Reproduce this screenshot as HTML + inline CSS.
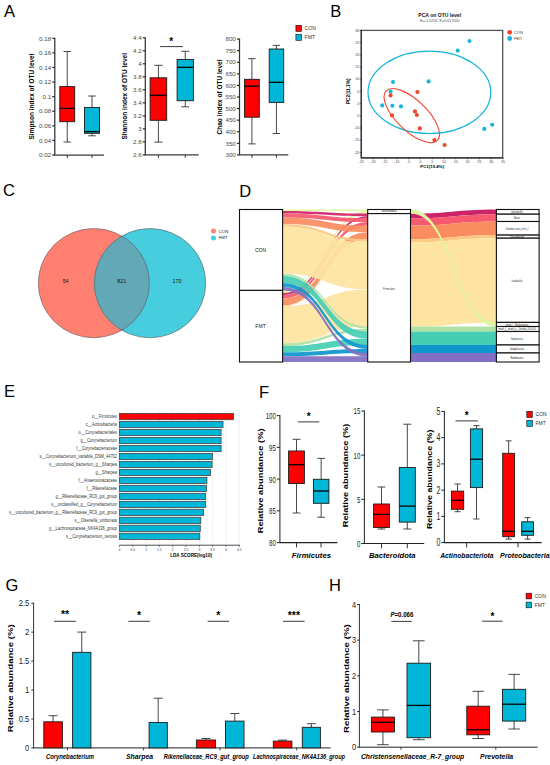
<!DOCTYPE html>
<html><head><meta charset="utf-8"><style>
html,body{margin:0;padding:0;background:#fff;}
body{width:550px;height:765px;overflow:hidden;}
svg{display:block;}
text{font-family:"Liberation Sans", sans-serif;}
</style></head><body>
<svg width="550" height="765" viewBox="0 0 550 765">
<rect width="550" height="765" fill="#fff"/>
<text transform="translate(4.00 17.00)" font-size="16.5" text-anchor="start" font-weight="normal" font-style="normal" fill="#000" >A</text>
<text transform="translate(330.20 17.00)" font-size="16.5" text-anchor="start" font-weight="normal" font-style="normal" fill="#000" >B</text>
<text transform="translate(3.00 196.20)" font-size="16.5" text-anchor="start" font-weight="normal" font-style="normal" fill="#000" >C</text>
<text transform="translate(239.20 196.90)" font-size="16.5" text-anchor="start" font-weight="normal" font-style="normal" fill="#000" >D</text>
<text transform="translate(4.00 396.50)" font-size="16.5" text-anchor="start" font-weight="normal" font-style="normal" fill="#000" >E</text>
<text transform="translate(259.00 398.40)" font-size="16.5" text-anchor="start" font-weight="normal" font-style="normal" fill="#000" >F</text>
<text transform="translate(5.50 590.60)" font-size="16.5" text-anchor="start" font-weight="normal" font-style="normal" fill="#000" >G</text>
<text transform="translate(329.00 590.90)" font-size="16.5" text-anchor="start" font-weight="normal" font-style="normal" fill="#000" >H</text>
<line x1="54.80" y1="37.80" x2="54.80" y2="155.00" stroke="#333" stroke-width="1.25"/>
<line x1="52.20" y1="155.00" x2="54.80" y2="155.00" stroke="#222" stroke-width="1.125"/>
<text transform="translate(51.10 157.22)" font-size="6.2" text-anchor="end" font-weight="normal" font-style="normal" fill="#4a4a4a" >0.02</text>
<line x1="52.20" y1="140.41" x2="54.80" y2="140.41" stroke="#222" stroke-width="1.125"/>
<text transform="translate(51.10 142.63)" font-size="6.2" text-anchor="end" font-weight="normal" font-style="normal" fill="#4a4a4a" >0.04</text>
<line x1="52.20" y1="125.83" x2="54.80" y2="125.83" stroke="#222" stroke-width="1.125"/>
<text transform="translate(51.10 128.04)" font-size="6.2" text-anchor="end" font-weight="normal" font-style="normal" fill="#4a4a4a" >0.06</text>
<line x1="52.20" y1="111.24" x2="54.80" y2="111.24" stroke="#222" stroke-width="1.125"/>
<text transform="translate(51.10 113.46)" font-size="6.2" text-anchor="end" font-weight="normal" font-style="normal" fill="#4a4a4a" >0.08</text>
<line x1="52.20" y1="96.65" x2="54.80" y2="96.65" stroke="#222" stroke-width="1.125"/>
<text transform="translate(51.10 98.87)" font-size="6.2" text-anchor="end" font-weight="normal" font-style="normal" fill="#4a4a4a" >0.1</text>
<line x1="52.20" y1="82.06" x2="54.80" y2="82.06" stroke="#222" stroke-width="1.125"/>
<text transform="translate(51.10 84.28)" font-size="6.2" text-anchor="end" font-weight="normal" font-style="normal" fill="#4a4a4a" >0.12</text>
<line x1="52.20" y1="67.47" x2="54.80" y2="67.47" stroke="#222" stroke-width="1.125"/>
<text transform="translate(51.10 69.69)" font-size="6.2" text-anchor="end" font-weight="normal" font-style="normal" fill="#4a4a4a" >0.14</text>
<line x1="52.20" y1="52.89" x2="54.80" y2="52.89" stroke="#222" stroke-width="1.125"/>
<text transform="translate(51.10 55.11)" font-size="6.2" text-anchor="end" font-weight="normal" font-style="normal" fill="#4a4a4a" >0.16</text>
<line x1="52.20" y1="38.30" x2="54.80" y2="38.30" stroke="#222" stroke-width="1.125"/>
<text transform="translate(51.10 40.52)" font-size="6.2" text-anchor="end" font-weight="normal" font-style="normal" fill="#4a4a4a" >0.18</text>
<line x1="54.20" y1="155.00" x2="104.00" y2="155.00" stroke="#3a3a3a" stroke-width="1.25"/>
<line x1="67.25" y1="51.50" x2="67.25" y2="86.60" stroke="#333" stroke-width="0.9"/>
<line x1="67.25" y1="121.70" x2="67.25" y2="142.00" stroke="#333" stroke-width="0.9"/>
<line x1="63.52" y1="51.50" x2="70.97" y2="51.50" stroke="#333" stroke-width="0.9"/>
<line x1="63.52" y1="142.00" x2="70.97" y2="142.00" stroke="#333" stroke-width="0.9"/>
<rect x="59.80" y="86.60" width="14.90" height="35.10" fill="#FF0000" stroke="#1a1a1a" stroke-width="0.9" />
<line x1="59.80" y1="108.40" x2="74.70" y2="108.40" stroke="#000" stroke-width="1.3"/>
<line x1="67.25" y1="155.00" x2="67.25" y2="158.00" stroke="#222" stroke-width="0.9"/>
<line x1="92.00" y1="96.00" x2="92.00" y2="107.40" stroke="#333" stroke-width="0.9"/>
<line x1="92.00" y1="133.30" x2="92.00" y2="135.80" stroke="#333" stroke-width="0.9"/>
<line x1="88.25" y1="96.00" x2="95.75" y2="96.00" stroke="#333" stroke-width="0.9"/>
<line x1="88.25" y1="135.80" x2="95.75" y2="135.80" stroke="#333" stroke-width="0.9"/>
<rect x="84.50" y="107.40" width="15.00" height="25.90" fill="#00B6D6" stroke="#1a1a1a" stroke-width="0.9" />
<line x1="84.50" y1="131.70" x2="99.50" y2="131.70" stroke="#000" stroke-width="1.3"/>
<line x1="92.00" y1="155.00" x2="92.00" y2="158.00" stroke="#222" stroke-width="0.9"/>
<text transform="translate(33.80 96.50) rotate(-90)" font-size="6.3" text-anchor="middle" font-weight="bold" font-style="normal" fill="#000" textLength="86.10" lengthAdjust="spacingAndGlyphs" >Simpson index of OTU level</text>
<line x1="145.30" y1="37.30" x2="145.30" y2="154.90" stroke="#333" stroke-width="1.25"/>
<line x1="142.70" y1="154.90" x2="145.30" y2="154.90" stroke="#222" stroke-width="1.125"/>
<text transform="translate(141.60 157.12)" font-size="6.2" text-anchor="end" font-weight="normal" font-style="normal" fill="#4a4a4a" >2.6</text>
<line x1="142.70" y1="141.89" x2="145.30" y2="141.89" stroke="#222" stroke-width="1.125"/>
<text transform="translate(141.60 144.11)" font-size="6.2" text-anchor="end" font-weight="normal" font-style="normal" fill="#4a4a4a" >2.8</text>
<line x1="142.70" y1="128.88" x2="145.30" y2="128.88" stroke="#222" stroke-width="1.125"/>
<text transform="translate(141.60 131.10)" font-size="6.2" text-anchor="end" font-weight="normal" font-style="normal" fill="#4a4a4a" >3</text>
<line x1="142.70" y1="115.87" x2="145.30" y2="115.87" stroke="#222" stroke-width="1.125"/>
<text transform="translate(141.60 118.09)" font-size="6.2" text-anchor="end" font-weight="normal" font-style="normal" fill="#4a4a4a" >3.2</text>
<line x1="142.70" y1="102.86" x2="145.30" y2="102.86" stroke="#222" stroke-width="1.125"/>
<text transform="translate(141.60 105.08)" font-size="6.2" text-anchor="end" font-weight="normal" font-style="normal" fill="#4a4a4a" >3.4</text>
<line x1="142.70" y1="89.84" x2="145.30" y2="89.84" stroke="#222" stroke-width="1.125"/>
<text transform="translate(141.60 92.06)" font-size="6.2" text-anchor="end" font-weight="normal" font-style="normal" fill="#4a4a4a" >3.6</text>
<line x1="142.70" y1="76.83" x2="145.30" y2="76.83" stroke="#222" stroke-width="1.125"/>
<text transform="translate(141.60 79.05)" font-size="6.2" text-anchor="end" font-weight="normal" font-style="normal" fill="#4a4a4a" >3.8</text>
<line x1="142.70" y1="63.82" x2="145.30" y2="63.82" stroke="#222" stroke-width="1.125"/>
<text transform="translate(141.60 66.04)" font-size="6.2" text-anchor="end" font-weight="normal" font-style="normal" fill="#4a4a4a" >4</text>
<line x1="142.70" y1="50.81" x2="145.30" y2="50.81" stroke="#222" stroke-width="1.125"/>
<text transform="translate(141.60 53.03)" font-size="6.2" text-anchor="end" font-weight="normal" font-style="normal" fill="#4a4a4a" >4.2</text>
<line x1="142.70" y1="37.80" x2="145.30" y2="37.80" stroke="#222" stroke-width="1.125"/>
<text transform="translate(141.60 40.02)" font-size="6.2" text-anchor="end" font-weight="normal" font-style="normal" fill="#4a4a4a" >4.4</text>
<line x1="144.70" y1="154.90" x2="198.70" y2="154.90" stroke="#3a3a3a" stroke-width="1.25"/>
<line x1="158.40" y1="65.30" x2="158.40" y2="77.80" stroke="#333" stroke-width="0.9"/>
<line x1="158.40" y1="120.30" x2="158.40" y2="142.10" stroke="#333" stroke-width="0.9"/>
<line x1="154.25" y1="65.30" x2="162.55" y2="65.30" stroke="#333" stroke-width="0.9"/>
<line x1="154.25" y1="142.10" x2="162.55" y2="142.10" stroke="#333" stroke-width="0.9"/>
<rect x="150.10" y="77.80" width="16.60" height="42.50" fill="#FF0000" stroke="#1a1a1a" stroke-width="0.9" />
<line x1="150.10" y1="95.30" x2="166.70" y2="95.30" stroke="#000" stroke-width="1.3"/>
<line x1="158.40" y1="154.90" x2="158.40" y2="157.90" stroke="#222" stroke-width="0.9"/>
<line x1="185.25" y1="51.30" x2="185.25" y2="59.40" stroke="#333" stroke-width="0.9"/>
<line x1="185.25" y1="100.70" x2="185.25" y2="106.80" stroke="#333" stroke-width="0.9"/>
<line x1="181.18" y1="51.30" x2="189.32" y2="51.30" stroke="#333" stroke-width="0.9"/>
<line x1="181.18" y1="106.80" x2="189.32" y2="106.80" stroke="#333" stroke-width="0.9"/>
<rect x="177.10" y="59.40" width="16.30" height="41.30" fill="#00B6D6" stroke="#1a1a1a" stroke-width="0.9" />
<line x1="177.10" y1="67.30" x2="193.40" y2="67.30" stroke="#000" stroke-width="1.3"/>
<line x1="185.25" y1="154.90" x2="185.25" y2="157.90" stroke="#222" stroke-width="0.9"/>
<text transform="translate(126.90 96.30) rotate(-90)" font-size="6.3" text-anchor="middle" font-weight="bold" font-style="normal" fill="#000" textLength="86.60" lengthAdjust="spacingAndGlyphs" >Shannon index of OTU level</text>
<line x1="239.50" y1="38.60" x2="239.50" y2="154.90" stroke="#333" stroke-width="1.25"/>
<line x1="236.90" y1="154.90" x2="239.50" y2="154.90" stroke="#222" stroke-width="1.125"/>
<text transform="translate(235.80 157.12)" font-size="6.2" text-anchor="end" font-weight="normal" font-style="normal" fill="#4a4a4a" >300</text>
<line x1="236.90" y1="143.32" x2="239.50" y2="143.32" stroke="#222" stroke-width="1.125"/>
<text transform="translate(235.80 145.54)" font-size="6.2" text-anchor="end" font-weight="normal" font-style="normal" fill="#4a4a4a" >350</text>
<line x1="236.90" y1="131.74" x2="239.50" y2="131.74" stroke="#222" stroke-width="1.125"/>
<text transform="translate(235.80 133.96)" font-size="6.2" text-anchor="end" font-weight="normal" font-style="normal" fill="#4a4a4a" >400</text>
<line x1="236.90" y1="120.16" x2="239.50" y2="120.16" stroke="#222" stroke-width="1.125"/>
<text transform="translate(235.80 122.38)" font-size="6.2" text-anchor="end" font-weight="normal" font-style="normal" fill="#4a4a4a" >450</text>
<line x1="236.90" y1="108.58" x2="239.50" y2="108.58" stroke="#222" stroke-width="1.125"/>
<text transform="translate(235.80 110.80)" font-size="6.2" text-anchor="end" font-weight="normal" font-style="normal" fill="#4a4a4a" >500</text>
<line x1="236.90" y1="97.00" x2="239.50" y2="97.00" stroke="#222" stroke-width="1.125"/>
<text transform="translate(235.80 99.22)" font-size="6.2" text-anchor="end" font-weight="normal" font-style="normal" fill="#4a4a4a" >550</text>
<line x1="236.90" y1="85.42" x2="239.50" y2="85.42" stroke="#222" stroke-width="1.125"/>
<text transform="translate(235.80 87.64)" font-size="6.2" text-anchor="end" font-weight="normal" font-style="normal" fill="#4a4a4a" >600</text>
<line x1="236.90" y1="73.84" x2="239.50" y2="73.84" stroke="#222" stroke-width="1.125"/>
<text transform="translate(235.80 76.06)" font-size="6.2" text-anchor="end" font-weight="normal" font-style="normal" fill="#4a4a4a" >650</text>
<line x1="236.90" y1="62.26" x2="239.50" y2="62.26" stroke="#222" stroke-width="1.125"/>
<text transform="translate(235.80 64.48)" font-size="6.2" text-anchor="end" font-weight="normal" font-style="normal" fill="#4a4a4a" >700</text>
<line x1="236.90" y1="50.68" x2="239.50" y2="50.68" stroke="#222" stroke-width="1.125"/>
<text transform="translate(235.80 52.90)" font-size="6.2" text-anchor="end" font-weight="normal" font-style="normal" fill="#4a4a4a" >750</text>
<line x1="236.90" y1="39.10" x2="239.50" y2="39.10" stroke="#222" stroke-width="1.125"/>
<text transform="translate(235.80 41.32)" font-size="6.2" text-anchor="end" font-weight="normal" font-style="normal" fill="#4a4a4a" >800</text>
<line x1="238.90" y1="154.90" x2="288.30" y2="154.90" stroke="#3a3a3a" stroke-width="1.25"/>
<line x1="251.90" y1="58.70" x2="251.90" y2="79.30" stroke="#333" stroke-width="0.9"/>
<line x1="251.90" y1="117.20" x2="251.90" y2="143.90" stroke="#333" stroke-width="0.9"/>
<line x1="248.20" y1="58.70" x2="255.60" y2="58.70" stroke="#333" stroke-width="0.9"/>
<line x1="248.20" y1="143.90" x2="255.60" y2="143.90" stroke="#333" stroke-width="0.9"/>
<rect x="244.50" y="79.30" width="14.80" height="37.90" fill="#FF0000" stroke="#1a1a1a" stroke-width="0.9" />
<line x1="244.50" y1="86.20" x2="259.30" y2="86.20" stroke="#000" stroke-width="1.3"/>
<line x1="251.90" y1="154.90" x2="251.90" y2="157.90" stroke="#222" stroke-width="0.9"/>
<line x1="276.45" y1="45.40" x2="276.45" y2="49.00" stroke="#333" stroke-width="0.9"/>
<line x1="276.45" y1="102.40" x2="276.45" y2="133.50" stroke="#333" stroke-width="0.9"/>
<line x1="272.82" y1="45.40" x2="280.07" y2="45.40" stroke="#333" stroke-width="0.9"/>
<line x1="272.82" y1="133.50" x2="280.07" y2="133.50" stroke="#333" stroke-width="0.9"/>
<rect x="269.20" y="49.00" width="14.50" height="53.40" fill="#00B6D6" stroke="#1a1a1a" stroke-width="0.9" />
<line x1="269.20" y1="82.30" x2="283.70" y2="82.30" stroke="#000" stroke-width="1.3"/>
<line x1="276.45" y1="154.90" x2="276.45" y2="157.90" stroke="#222" stroke-width="0.9"/>
<text transform="translate(222.00 97.00) rotate(-90)" font-size="6.3" text-anchor="middle" font-weight="bold" font-style="normal" fill="#000" textLength="75.10" lengthAdjust="spacingAndGlyphs" >Chao index of OTU level</text>
<line x1="160.10" y1="46.60" x2="182.90" y2="46.60" stroke="#222" stroke-width="0.9"/>
<text transform="translate(171.20 45.00)" font-size="10" text-anchor="middle" font-weight="bold" font-style="normal" fill="#000" >*</text>
<rect x="295.90" y="25.40" width="5.60" height="6.00" fill="#FF0000" stroke="#111" stroke-width="0.6" />
<text transform="translate(304.60 30.40) scale(1 1.15)" font-size="5.05" text-anchor="start" font-weight="normal" font-style="normal" fill="#333" >CON</text>
<rect x="295.90" y="34.40" width="5.60" height="6.00" fill="#00B6D6" stroke="#111" stroke-width="0.6" />
<text transform="translate(304.60 39.20) scale(1 1.15)" font-size="5.05" text-anchor="start" font-weight="normal" font-style="normal" fill="#333" >FMT</text>
<rect x="361.30" y="30.40" width="141.40" height="127.40" fill="none" stroke="#555" stroke-width="1.3" />
<line x1="361.30" y1="29.80" x2="361.30" y2="157.80" stroke="#333" stroke-width="1.3"/>
<line x1="361.30" y1="157.80" x2="503.30" y2="157.80" stroke="#333" stroke-width="1.3"/>
<line x1="359.70" y1="152.40" x2="361.30" y2="152.40" stroke="#333" stroke-width="0.7"/>
<text transform="translate(359.10 153.65)" font-size="3.5" text-anchor="end" font-weight="normal" font-style="normal" fill="#444" >-20</text>
<line x1="359.70" y1="140.20" x2="361.30" y2="140.20" stroke="#333" stroke-width="0.7"/>
<text transform="translate(359.10 141.45)" font-size="3.5" text-anchor="end" font-weight="normal" font-style="normal" fill="#444" >-15</text>
<line x1="359.70" y1="128.00" x2="361.30" y2="128.00" stroke="#333" stroke-width="0.7"/>
<text transform="translate(359.10 129.25)" font-size="3.5" text-anchor="end" font-weight="normal" font-style="normal" fill="#444" >-10</text>
<line x1="359.70" y1="115.80" x2="361.30" y2="115.80" stroke="#333" stroke-width="0.7"/>
<text transform="translate(359.10 117.05)" font-size="3.5" text-anchor="end" font-weight="normal" font-style="normal" fill="#444" >-5</text>
<line x1="359.70" y1="103.60" x2="361.30" y2="103.60" stroke="#333" stroke-width="0.7"/>
<text transform="translate(359.10 104.85)" font-size="3.5" text-anchor="end" font-weight="normal" font-style="normal" fill="#444" >0</text>
<line x1="359.70" y1="91.40" x2="361.30" y2="91.40" stroke="#333" stroke-width="0.7"/>
<text transform="translate(359.10 92.65)" font-size="3.5" text-anchor="end" font-weight="normal" font-style="normal" fill="#444" >5</text>
<line x1="359.70" y1="79.20" x2="361.30" y2="79.20" stroke="#333" stroke-width="0.7"/>
<text transform="translate(359.10 80.45)" font-size="3.5" text-anchor="end" font-weight="normal" font-style="normal" fill="#444" >10</text>
<line x1="359.70" y1="67.00" x2="361.30" y2="67.00" stroke="#333" stroke-width="0.7"/>
<text transform="translate(359.10 68.25)" font-size="3.5" text-anchor="end" font-weight="normal" font-style="normal" fill="#444" >15</text>
<line x1="359.70" y1="54.80" x2="361.30" y2="54.80" stroke="#333" stroke-width="0.7"/>
<text transform="translate(359.10 56.05)" font-size="3.5" text-anchor="end" font-weight="normal" font-style="normal" fill="#444" >20</text>
<line x1="359.70" y1="42.60" x2="361.30" y2="42.60" stroke="#333" stroke-width="0.7"/>
<text transform="translate(359.10 43.85)" font-size="3.5" text-anchor="end" font-weight="normal" font-style="normal" fill="#444" >25</text>
<line x1="359.70" y1="30.40" x2="361.30" y2="30.40" stroke="#333" stroke-width="0.7"/>
<text transform="translate(359.10 31.65)" font-size="3.5" text-anchor="end" font-weight="normal" font-style="normal" fill="#444" >30</text>
<line x1="361.40" y1="157.80" x2="361.40" y2="159.30" stroke="#333" stroke-width="0.7"/>
<text transform="translate(361.40 162.90)" font-size="3.5" text-anchor="middle" font-weight="normal" font-style="normal" fill="#444" >-25</text>
<line x1="373.20" y1="157.80" x2="373.20" y2="159.30" stroke="#333" stroke-width="0.7"/>
<text transform="translate(373.20 162.90)" font-size="3.5" text-anchor="middle" font-weight="normal" font-style="normal" fill="#444" >-20</text>
<line x1="385.00" y1="157.80" x2="385.00" y2="159.30" stroke="#333" stroke-width="0.7"/>
<text transform="translate(385.00 162.90)" font-size="3.5" text-anchor="middle" font-weight="normal" font-style="normal" fill="#444" >-15</text>
<line x1="396.80" y1="157.80" x2="396.80" y2="159.30" stroke="#333" stroke-width="0.7"/>
<text transform="translate(396.80 162.90)" font-size="3.5" text-anchor="middle" font-weight="normal" font-style="normal" fill="#444" >-10</text>
<line x1="408.60" y1="157.80" x2="408.60" y2="159.30" stroke="#333" stroke-width="0.7"/>
<text transform="translate(408.60 162.90)" font-size="3.5" text-anchor="middle" font-weight="normal" font-style="normal" fill="#444" >-5</text>
<line x1="420.40" y1="157.80" x2="420.40" y2="159.30" stroke="#333" stroke-width="0.7"/>
<text transform="translate(420.40 162.90)" font-size="3.5" text-anchor="middle" font-weight="normal" font-style="normal" fill="#444" >0</text>
<line x1="432.20" y1="157.80" x2="432.20" y2="159.30" stroke="#333" stroke-width="0.7"/>
<text transform="translate(432.20 162.90)" font-size="3.5" text-anchor="middle" font-weight="normal" font-style="normal" fill="#444" >5</text>
<line x1="444.00" y1="157.80" x2="444.00" y2="159.30" stroke="#333" stroke-width="0.7"/>
<text transform="translate(444.00 162.90)" font-size="3.5" text-anchor="middle" font-weight="normal" font-style="normal" fill="#444" >10</text>
<line x1="455.80" y1="157.80" x2="455.80" y2="159.30" stroke="#333" stroke-width="0.7"/>
<text transform="translate(455.80 162.90)" font-size="3.5" text-anchor="middle" font-weight="normal" font-style="normal" fill="#444" >15</text>
<line x1="467.60" y1="157.80" x2="467.60" y2="159.30" stroke="#333" stroke-width="0.7"/>
<text transform="translate(467.60 162.90)" font-size="3.5" text-anchor="middle" font-weight="normal" font-style="normal" fill="#444" >20</text>
<line x1="479.40" y1="157.80" x2="479.40" y2="159.30" stroke="#333" stroke-width="0.7"/>
<text transform="translate(479.40 162.90)" font-size="3.5" text-anchor="middle" font-weight="normal" font-style="normal" fill="#444" >25</text>
<line x1="491.20" y1="157.80" x2="491.20" y2="159.30" stroke="#333" stroke-width="0.7"/>
<text transform="translate(491.20 162.90)" font-size="3.5" text-anchor="middle" font-weight="normal" font-style="normal" fill="#444" >30</text>
<line x1="503.00" y1="157.80" x2="503.00" y2="159.30" stroke="#333" stroke-width="0.7"/>
<text transform="translate(503.00 162.90)" font-size="3.5" text-anchor="middle" font-weight="normal" font-style="normal" fill="#444" >35</text>
<text transform="translate(439.70 17.00)" font-size="5.05" text-anchor="middle" font-weight="bold" font-style="normal" fill="#111" >PCA on OTU level</text>
<text transform="translate(439.70 21.70)" font-size="3.68" text-anchor="middle" font-weight="normal" font-style="normal" fill="#555" >R=-0.0258, P=0.657000</text>
<text transform="translate(432.20 168.10)" font-size="4.4" text-anchor="middle" font-weight="bold" font-style="normal" fill="#000" >PC1(19.4%)</text>
<text transform="translate(350.40 91.30) rotate(-90)" font-size="4.6" text-anchor="middle" font-weight="bold" font-style="normal" fill="#000" textLength="25.60" lengthAdjust="spacingAndGlyphs" >PC2(11.1%)</text>
<ellipse cx="429.4" cy="92.3" rx="61.4" ry="41.2" fill="none" stroke="#17B4DC" stroke-width="1.2"/>
<ellipse cx="411.8" cy="115.6" rx="35.6" ry="15.2" fill="none" stroke="#F2432D" stroke-width="1.1" transform="rotate(44 411.8 115.6)"/>
<circle cx="393" cy="82" r="2.05" fill="#17B4DC"/>
<circle cx="428.6" cy="81.4" r="2.05" fill="#17B4DC"/>
<circle cx="390.6" cy="91.6" r="2.05" fill="#17B4DC"/>
<circle cx="382.2" cy="105.4" r="2.05" fill="#17B4DC"/>
<circle cx="392.4" cy="105.8" r="2.05" fill="#17B4DC"/>
<circle cx="401" cy="106.4" r="2.05" fill="#17B4DC"/>
<circle cx="469.5" cy="41" r="2.05" fill="#17B4DC"/>
<circle cx="457.7" cy="50.6" r="2.05" fill="#17B4DC"/>
<circle cx="484.3" cy="128.9" r="2.05" fill="#17B4DC"/>
<circle cx="492.2" cy="124.7" r="2.05" fill="#17B4DC"/>
<circle cx="390.6" cy="95.4" r="2.05" fill="#F2432D"/>
<circle cx="417.4" cy="92" r="2.05" fill="#F2432D"/>
<circle cx="415" cy="111.4" r="2.05" fill="#F2432D"/>
<circle cx="416.8" cy="115" r="2.05" fill="#F2432D"/>
<circle cx="392" cy="115.4" r="2.05" fill="#F2432D"/>
<circle cx="419.8" cy="128.4" r="2.05" fill="#F2432D"/>
<circle cx="434.4" cy="140" r="2.05" fill="#F2432D"/>
<circle cx="444.6" cy="145" r="2.05" fill="#F2432D"/>
<circle cx="509.7" cy="32.3" r="2.4" fill="#F2432D"/>
<text transform="translate(513.90 33.50)" font-size="4.05" text-anchor="start" font-weight="normal" font-style="normal" fill="#444" >CON</text>
<circle cx="509.7" cy="38.5" r="2.4" fill="#17B4DC"/>
<text transform="translate(513.90 39.70)" font-size="4.05" text-anchor="start" font-weight="normal" font-style="normal" fill="#444" >FMT</text>
<ellipse cx="93.85" cy="283.15" rx="55.55" ry="54.6" fill="#FF8070"/>
<ellipse cx="149.95" cy="283.15" rx="55.75" ry="54.6" fill="#46CDDE"/>
<clipPath id="cl"><ellipse cx="93.85" cy="283.15" rx="55.55" ry="54.6"/></clipPath>
<ellipse cx="149.95" cy="283.15" rx="55.75" ry="54.6" fill="#62A8B6" clip-path="url(#cl)"/>
<ellipse cx="93.85" cy="283.15" rx="55.55" ry="54.6" fill="none" stroke="#5a5a5a" stroke-width="0.6"/>
<ellipse cx="149.95" cy="283.15" rx="55.75" ry="54.6" fill="none" stroke="#5a5a5a" stroke-width="0.6"/>
<text transform="translate(65.60 283.10)" font-size="5.3" text-anchor="middle" font-weight="normal" font-style="normal" fill="#111" >54</text>
<text transform="translate(121.70 283.10)" font-size="5.3" text-anchor="middle" font-weight="normal" font-style="normal" fill="#111" >821</text>
<text transform="translate(177.00 283.10)" font-size="5.3" text-anchor="middle" font-weight="normal" font-style="normal" fill="#111" >170</text>
<circle cx="213.5" cy="231" r="2.5" fill="#FF8070"/>
<text transform="translate(218.70 232.50)" font-size="4.3" text-anchor="start" font-weight="normal" font-style="normal" fill="#111" >CON</text>
<circle cx="213.5" cy="238" r="2.5" fill="#46CDDE"/>
<text transform="translate(218.70 239.30)" font-size="4.3" text-anchor="start" font-weight="normal" font-style="normal" fill="#111" >FMT</text>
<path d="M282.60,290.40 C325.15,290.40 325.15,210.90 367.70,210.90 L367.70,213.60 C325.15,213.60 325.15,293.10 282.60,293.10 Z" fill="#E1F5A0" fill-opacity="0.93"/>
<path d="M282.60,293.10 C325.15,293.10 325.15,216.30 367.70,216.30 L367.70,218.30 C325.15,218.30 325.15,295.10 282.60,295.10 Z" fill="#CD2369" fill-opacity="0.93"/>
<path d="M282.60,295.10 C325.15,295.10 325.15,222.10 367.70,222.10 L367.70,225.60 C325.15,225.60 325.15,298.60 282.60,298.60 Z" fill="#F55A6E" fill-opacity="0.93"/>
<path d="M282.60,298.60 C325.15,298.60 325.15,232.20 367.70,232.20 L367.70,239.20 C325.15,239.20 325.15,305.60 282.60,305.60 Z" fill="#FA8C5F" fill-opacity="0.93"/>
<path d="M282.60,305.60 C325.15,305.60 325.15,241.60 367.70,241.60 L367.70,242.30 C325.15,242.30 325.15,306.30 282.60,306.30 Z" fill="#FCC882" fill-opacity="0.93"/>
<path d="M282.60,306.30 C325.15,306.30 325.15,289.50 367.70,289.50 L367.70,326.50 C325.15,326.50 325.15,343.30 282.60,343.30 Z" fill="#FDE4A0" fill-opacity="0.93"/>
<path d="M282.60,343.30 C325.15,343.30 325.15,328.70 367.70,328.70 L367.70,331.50 C325.15,331.50 325.15,346.10 282.60,346.10 Z" fill="#AFE1A5" fill-opacity="0.93"/>
<path d="M282.60,346.10 C325.15,346.10 325.15,338.80 367.70,338.80 L367.70,345.00 C325.15,345.00 325.15,352.30 282.60,352.30 Z" fill="#46CDB4" fill-opacity="0.93"/>
<path d="M282.60,352.30 C325.15,352.30 325.15,349.00 367.70,349.00 L367.70,353.00 C325.15,353.00 325.15,356.30 282.60,356.30 Z" fill="#0F96CD" fill-opacity="0.93"/>
<path d="M282.60,356.30 C325.15,356.30 325.15,356.30 367.70,356.30 L367.70,362.00 C325.15,362.00 325.15,362.00 282.60,362.00 Z" fill="#826EC3" fill-opacity="0.93"/>
<path d="M282.60,209.50 C325.15,209.50 325.15,209.50 367.70,209.50 L367.70,210.90 C325.15,210.90 325.15,210.90 282.60,210.90 Z" fill="#E1F5A0" fill-opacity="0.93"/>
<path d="M282.60,210.90 C325.15,210.90 325.15,213.60 367.70,213.60 L367.70,216.30 C325.15,216.30 325.15,213.60 282.60,213.60 Z" fill="#CD2369" fill-opacity="0.93"/>
<path d="M282.60,213.60 C325.15,213.60 325.15,218.30 367.70,218.30 L367.70,222.10 C325.15,222.10 325.15,217.40 282.60,217.40 Z" fill="#F55A6E" fill-opacity="0.93"/>
<path d="M282.60,217.40 C325.15,217.40 325.15,225.60 367.70,225.60 L367.70,232.20 C325.15,232.20 325.15,224.00 282.60,224.00 Z" fill="#FA8C5F" fill-opacity="0.93"/>
<path d="M282.60,224.00 C325.15,224.00 325.15,239.20 367.70,239.20 L367.70,241.60 C325.15,241.60 325.15,226.40 282.60,226.40 Z" fill="#FCC882" fill-opacity="0.93"/>
<path d="M282.60,226.40 C325.15,226.40 325.15,242.30 367.70,242.30 L367.70,289.50 C325.15,289.50 325.15,273.60 282.60,273.60 Z" fill="#FDE4A0" fill-opacity="0.93"/>
<path d="M282.60,273.60 C325.15,273.60 325.15,326.50 367.70,326.50 L367.70,328.70 C325.15,328.70 325.15,275.80 282.60,275.80 Z" fill="#AFE1A5" fill-opacity="0.93"/>
<path d="M282.60,275.80 C325.15,275.80 325.15,331.50 367.70,331.50 L367.70,338.80 C325.15,338.80 325.15,283.10 282.60,283.10 Z" fill="#46CDB4" fill-opacity="0.93"/>
<path d="M282.60,283.10 C325.15,283.10 325.15,345.00 367.70,345.00 L367.70,349.00 C325.15,349.00 325.15,287.10 282.60,287.10 Z" fill="#0F96CD" fill-opacity="0.93"/>
<path d="M282.60,287.10 C325.15,287.10 325.15,353.00 367.70,353.00 L367.70,356.30 C325.15,356.30 325.15,290.40 282.60,290.40 Z" fill="#826EC3" fill-opacity="0.93"/>
<path d="M410.50,213.60 C453.45,213.60 453.45,209.50 496.40,209.50 L496.40,214.20 C453.45,214.20 453.45,218.30 410.50,218.30 Z" fill="#CD2369" fill-opacity="1.0"/>
<path d="M410.50,218.30 C453.45,218.30 453.45,214.20 496.40,214.20 L496.40,221.50 C453.45,221.50 453.45,225.60 410.50,225.60 Z" fill="#F55A6E" fill-opacity="1.0"/>
<path d="M410.50,225.60 C453.45,225.60 453.45,221.50 496.40,221.50 L496.40,235.10 C453.45,235.10 453.45,239.20 410.50,239.20 Z" fill="#FA8C5F" fill-opacity="1.0"/>
<path d="M410.50,239.20 C453.45,239.20 453.45,235.10 496.40,235.10 L496.40,238.20 C453.45,238.20 453.45,242.30 410.50,242.30 Z" fill="#FCC882" fill-opacity="1.0"/>
<path d="M410.50,242.30 C453.45,242.30 453.45,238.20 496.40,238.20 L496.40,322.40 C453.45,322.40 453.45,326.50 410.50,326.50 Z" fill="#FDE4A0" fill-opacity="1.0"/>
<path d="M410.50,326.50 C453.45,326.50 453.45,326.50 496.40,326.50 L496.40,331.50 C453.45,331.50 453.45,331.50 410.50,331.50 Z" fill="#AFE1A5" fill-opacity="1.0"/>
<path d="M410.50,331.50 C453.45,331.50 453.45,331.50 496.40,331.50 L496.40,345.00 C453.45,345.00 453.45,345.00 410.50,345.00 Z" fill="#46CDB4" fill-opacity="1.0"/>
<path d="M410.50,345.00 C453.45,345.00 453.45,345.00 496.40,345.00 L496.40,353.00 C453.45,353.00 453.45,353.00 410.50,353.00 Z" fill="#0F96CD" fill-opacity="1.0"/>
<path d="M410.50,353.00 C453.45,353.00 453.45,353.00 496.40,353.00 L496.40,362.00 C453.45,362.00 453.45,362.00 410.50,362.00 Z" fill="#826EC3" fill-opacity="1.0"/>
<path d="M410.50,209.50 C453.45,209.50 453.45,322.40 496.40,322.40 L496.40,326.50 C453.45,326.50 453.45,213.60 410.50,213.60 Z" fill="#E1F5A0" fill-opacity="1.0"/>
<rect x="239.50" y="209.50" width="43.10" height="80.90" fill="#fff" stroke="#111" stroke-width="1.1" />
<text transform="translate(260.60 251.80)" font-size="5.1" text-anchor="middle" font-weight="normal" font-style="normal" fill="#222" >CON</text>
<rect x="239.50" y="290.40" width="43.10" height="71.60" fill="#fff" stroke="#111" stroke-width="1.1" />
<text transform="translate(260.60 328.30)" font-size="5.1" text-anchor="middle" font-weight="normal" font-style="normal" fill="#222" >FMT</text>
<rect x="367.70" y="209.50" width="42.80" height="4.10" fill="#fff" stroke="#111" stroke-width="1.1" />
<text transform="translate(389.10 212.35)" font-size="2.6" text-anchor="middle" font-weight="normal" font-style="normal" fill="#222" >Bacteroidota</text>
<rect x="367.70" y="213.60" width="42.80" height="148.40" fill="#fff" stroke="#111" stroke-width="1.1" />
<text transform="translate(389.10 289.80)" font-size="2.6" text-anchor="middle" font-weight="normal" font-style="normal" fill="#333" >Firmicutes</text>
<rect x="496.40" y="209.50" width="42.70" height="4.70" fill="#fff" stroke="#111" stroke-width="1.1" />
<text transform="translate(516.95 213.25)" font-size="2.6" text-anchor="middle" font-weight="normal" font-style="normal" fill="#111" textLength="11.80" lengthAdjust="spacingAndGlyphs" >Ligilactobacillus</text>
<rect x="496.40" y="214.20" width="42.70" height="7.30" fill="#fff" stroke="#111" stroke-width="1.1" />
<text transform="translate(516.95 219.25)" font-size="2.6" text-anchor="middle" font-weight="normal" font-style="normal" fill="#111" textLength="5.80" lengthAdjust="spacingAndGlyphs" >Blautia</text>
<rect x="496.40" y="221.50" width="42.70" height="13.60" fill="#fff" stroke="#111" stroke-width="1.1" />
<text transform="translate(516.95 229.70)" font-size="2.6" text-anchor="middle" font-weight="normal" font-style="normal" fill="#111" textLength="23.10" lengthAdjust="spacingAndGlyphs" >Clostridium_sensu_stricto_1</text>
<rect x="496.40" y="235.10" width="42.70" height="3.10" fill="#fff" stroke="#111" stroke-width="1.1" />
<text transform="translate(516.95 238.05)" font-size="2.6" text-anchor="middle" font-weight="normal" font-style="normal" fill="#111" textLength="14.50" lengthAdjust="spacingAndGlyphs" >Turicibacter</text>
<rect x="496.40" y="238.20" width="42.70" height="84.20" fill="#fff" stroke="#111" stroke-width="1.1" />
<text transform="translate(516.95 281.70)" font-size="2.6" text-anchor="middle" font-weight="normal" font-style="normal" fill="#111" textLength="10.90" lengthAdjust="spacingAndGlyphs" >Lactobacillus</text>
<rect x="496.40" y="322.40" width="42.70" height="4.10" fill="#fff" stroke="#111" stroke-width="1.1" />
<text transform="translate(516.95 325.85)" font-size="2.6" text-anchor="middle" font-weight="normal" font-style="normal" fill="#111" textLength="22.50" lengthAdjust="spacingAndGlyphs" >norank_f__Muribaculaceae</text>
<rect x="496.40" y="326.50" width="42.70" height="5.00" fill="#fff" stroke="#111" stroke-width="1.1" />
<text transform="translate(516.95 330.40)" font-size="2.6" text-anchor="middle" font-weight="normal" font-style="normal" fill="#111" textLength="37.50" lengthAdjust="spacingAndGlyphs" >norank_f__norank_o__Clostridia_UCG-014</text>
<rect x="496.40" y="331.50" width="42.70" height="13.50" fill="#fff" stroke="#111" stroke-width="1.1" />
<text transform="translate(516.95 339.65)" font-size="2.6" text-anchor="middle" font-weight="normal" font-style="normal" fill="#111" textLength="12.00" lengthAdjust="spacingAndGlyphs" >Staphylococcus</text>
<rect x="496.40" y="345.00" width="42.70" height="8.00" fill="#fff" stroke="#111" stroke-width="1.1" />
<text transform="translate(516.95 350.40)" font-size="2.6" text-anchor="middle" font-weight="normal" font-style="normal" fill="#111" textLength="14.50" lengthAdjust="spacingAndGlyphs" >Jeotgalicoccus</text>
<rect x="496.40" y="353.00" width="42.70" height="9.00" fill="#fff" stroke="#111" stroke-width="1.1" />
<text transform="translate(516.95 358.90)" font-size="2.6" text-anchor="middle" font-weight="normal" font-style="normal" fill="#111" textLength="13.00" lengthAdjust="spacingAndGlyphs" >Romboutsia</text>
<line x1="132.80" y1="410" x2="132.80" y2="545" stroke="#bbb" stroke-width="0.5" stroke-dasharray="1,1.5"/>
<line x1="146.10" y1="410" x2="146.10" y2="545" stroke="#bbb" stroke-width="0.5" stroke-dasharray="1,1.5"/>
<line x1="159.40" y1="410" x2="159.40" y2="545" stroke="#bbb" stroke-width="0.5" stroke-dasharray="1,1.5"/>
<line x1="172.70" y1="410" x2="172.70" y2="545" stroke="#bbb" stroke-width="0.5" stroke-dasharray="1,1.5"/>
<line x1="186.00" y1="410" x2="186.00" y2="545" stroke="#bbb" stroke-width="0.5" stroke-dasharray="1,1.5"/>
<line x1="199.30" y1="410" x2="199.30" y2="545" stroke="#bbb" stroke-width="0.5" stroke-dasharray="1,1.5"/>
<line x1="212.60" y1="410" x2="212.60" y2="545" stroke="#bbb" stroke-width="0.5" stroke-dasharray="1,1.5"/>
<line x1="225.90" y1="410" x2="225.90" y2="545" stroke="#bbb" stroke-width="0.5" stroke-dasharray="1,1.5"/>
<line x1="239.20" y1="410" x2="239.20" y2="545" stroke="#bbb" stroke-width="0.5" stroke-dasharray="1,1.5"/>
<rect x="119.50" y="413.50" width="113.90" height="6.20" fill="#FF0000" stroke="#444" stroke-width="0.8" />
<text transform="translate(117.00 418.00) scale(1 1.12)" font-size="3.95" text-anchor="end" font-weight="normal" font-style="normal" fill="#333" >p__Firmicutes</text>
<rect x="119.50" y="421.48" width="103.50" height="6.20" fill="#00B6D6" stroke="#444" stroke-width="0.8" />
<text transform="translate(117.00 425.98) scale(1 1.12)" font-size="3.95" text-anchor="end" font-weight="normal" font-style="normal" fill="#333" >c__Actinobacteria</text>
<rect x="119.50" y="429.46" width="101.60" height="6.20" fill="#00B6D6" stroke="#444" stroke-width="0.8" />
<text transform="translate(117.00 433.96) scale(1 1.12)" font-size="3.95" text-anchor="end" font-weight="normal" font-style="normal" fill="#333" >o__Corynebacteriales</text>
<rect x="119.50" y="437.44" width="101.60" height="6.20" fill="#00B6D6" stroke="#444" stroke-width="0.8" />
<text transform="translate(117.00 441.94) scale(1 1.12)" font-size="3.95" text-anchor="end" font-weight="normal" font-style="normal" fill="#333" >g__Corynebacterium</text>
<rect x="119.50" y="445.42" width="101.60" height="6.20" fill="#00B6D6" stroke="#444" stroke-width="0.8" />
<text transform="translate(117.00 449.92) scale(1 1.12)" font-size="3.95" text-anchor="end" font-weight="normal" font-style="normal" fill="#333" >f__Corynebacteriaceae</text>
<rect x="119.50" y="453.40" width="92.90" height="6.20" fill="#00B6D6" stroke="#444" stroke-width="0.8" />
<text transform="translate(117.00 457.90) scale(1 1.12)" font-size="3.95" text-anchor="end" font-weight="normal" font-style="normal" fill="#333" >s__Corynebacterium_variabile_DSM_44702</text>
<rect x="119.50" y="461.38" width="92.60" height="6.20" fill="#00B6D6" stroke="#444" stroke-width="0.8" />
<text transform="translate(117.00 465.88) scale(1 1.12)" font-size="3.95" text-anchor="end" font-weight="normal" font-style="normal" fill="#333" >s__uncultured_bacterium_g__Sharpea</text>
<rect x="119.50" y="469.36" width="91.00" height="6.20" fill="#00B6D6" stroke="#444" stroke-width="0.8" />
<text transform="translate(117.00 473.86) scale(1 1.12)" font-size="3.95" text-anchor="end" font-weight="normal" font-style="normal" fill="#333" >g__Sharpea</text>
<rect x="119.50" y="477.34" width="87.40" height="6.20" fill="#00B6D6" stroke="#444" stroke-width="0.8" />
<text transform="translate(117.00 481.84) scale(1 1.12)" font-size="3.95" text-anchor="end" font-weight="normal" font-style="normal" fill="#333" >f__Anaerovoracaceae</text>
<rect x="119.50" y="485.32" width="87.00" height="6.20" fill="#00B6D6" stroke="#444" stroke-width="0.8" />
<text transform="translate(117.00 489.82) scale(1 1.12)" font-size="3.95" text-anchor="end" font-weight="normal" font-style="normal" fill="#333" >f__Rikenellaceae</text>
<rect x="119.50" y="493.30" width="86.20" height="6.20" fill="#00B6D6" stroke="#444" stroke-width="0.8" />
<text transform="translate(117.00 497.80) scale(1 1.12)" font-size="3.95" text-anchor="end" font-weight="normal" font-style="normal" fill="#333" >g__Rikenellaceae_RC9_gut_group</text>
<rect x="119.50" y="501.28" width="86.20" height="6.20" fill="#00B6D6" stroke="#444" stroke-width="0.8" />
<text transform="translate(117.00 505.78) scale(1 1.12)" font-size="3.95" text-anchor="end" font-weight="normal" font-style="normal" fill="#333" >s__unclassified_g__Corynebacterium</text>
<rect x="119.50" y="509.26" width="83.90" height="6.20" fill="#00B6D6" stroke="#444" stroke-width="0.8" />
<text transform="translate(117.00 513.76) scale(1 1.12)" font-size="3.95" text-anchor="end" font-weight="normal" font-style="normal" fill="#333" >s__uncultured_bacterium_g__Rikenellaceae_RC9_gut_group</text>
<rect x="119.50" y="517.24" width="81.30" height="6.20" fill="#00B6D6" stroke="#444" stroke-width="0.8" />
<text transform="translate(117.00 521.74) scale(1 1.12)" font-size="3.95" text-anchor="end" font-weight="normal" font-style="normal" fill="#333" >s__Olsenella_umbonata</text>
<rect x="119.50" y="525.22" width="80.80" height="6.20" fill="#00B6D6" stroke="#444" stroke-width="0.8" />
<text transform="translate(117.00 529.72) scale(1 1.12)" font-size="3.95" text-anchor="end" font-weight="normal" font-style="normal" fill="#333" >g__Lachnospiraceae_NK4A136_group</text>
<rect x="119.50" y="533.20" width="80.30" height="6.20" fill="#00B6D6" stroke="#444" stroke-width="0.8" />
<text transform="translate(117.00 537.70) scale(1 1.12)" font-size="3.95" text-anchor="end" font-weight="normal" font-style="normal" fill="#333" >s__Corynebacterium_xerosis</text>
<line x1="119.50" y1="545.20" x2="240.00" y2="545.20" stroke="#222" stroke-width="0.8"/>
<line x1="119.50" y1="545.20" x2="119.50" y2="546.80" stroke="#222" stroke-width="0.6"/>
<text transform="translate(119.50 550.80)" font-size="3.3" text-anchor="middle" font-weight="normal" font-style="normal" fill="#333" >0</text>
<line x1="132.80" y1="545.20" x2="132.80" y2="546.80" stroke="#222" stroke-width="0.6"/>
<text transform="translate(132.80 550.80)" font-size="3.3" text-anchor="middle" font-weight="normal" font-style="normal" fill="#333" >0.5</text>
<line x1="146.10" y1="545.20" x2="146.10" y2="546.80" stroke="#222" stroke-width="0.6"/>
<text transform="translate(146.10 550.80)" font-size="3.3" text-anchor="middle" font-weight="normal" font-style="normal" fill="#333" >1</text>
<line x1="159.40" y1="545.20" x2="159.40" y2="546.80" stroke="#222" stroke-width="0.6"/>
<text transform="translate(159.40 550.80)" font-size="3.3" text-anchor="middle" font-weight="normal" font-style="normal" fill="#333" >1.5</text>
<line x1="172.70" y1="545.20" x2="172.70" y2="546.80" stroke="#222" stroke-width="0.6"/>
<text transform="translate(172.70 550.80)" font-size="3.3" text-anchor="middle" font-weight="normal" font-style="normal" fill="#333" >2</text>
<line x1="186.00" y1="545.20" x2="186.00" y2="546.80" stroke="#222" stroke-width="0.6"/>
<text transform="translate(186.00 550.80)" font-size="3.3" text-anchor="middle" font-weight="normal" font-style="normal" fill="#333" >2.5</text>
<line x1="199.30" y1="545.20" x2="199.30" y2="546.80" stroke="#222" stroke-width="0.6"/>
<text transform="translate(199.30 550.80)" font-size="3.3" text-anchor="middle" font-weight="normal" font-style="normal" fill="#333" >3</text>
<line x1="212.60" y1="545.20" x2="212.60" y2="546.80" stroke="#222" stroke-width="0.6"/>
<text transform="translate(212.60 550.80)" font-size="3.3" text-anchor="middle" font-weight="normal" font-style="normal" fill="#333" >3.5</text>
<line x1="225.90" y1="545.20" x2="225.90" y2="546.80" stroke="#222" stroke-width="0.6"/>
<text transform="translate(225.90 550.80)" font-size="3.3" text-anchor="middle" font-weight="normal" font-style="normal" fill="#333" >4</text>
<line x1="239.20" y1="545.20" x2="239.20" y2="546.80" stroke="#222" stroke-width="0.6"/>
<text transform="translate(239.20 550.80)" font-size="3.3" text-anchor="middle" font-weight="normal" font-style="normal" fill="#333" >4.5</text>
<text transform="translate(191.10 557.40)" font-size="4.58" text-anchor="middle" font-weight="bold" font-style="normal" fill="#000" >LDA SCORE(log10)</text>
<line x1="279.90" y1="415.10" x2="279.90" y2="542.60" stroke="#333" stroke-width="1.1"/>
<line x1="276.80" y1="542.60" x2="279.90" y2="542.60" stroke="#222" stroke-width="0.9900000000000001"/>
<text transform="translate(275.80 546.04) scale(0.63 1)" font-size="9.6" text-anchor="end" font-weight="normal" font-style="normal" fill="#222" >80</text>
<line x1="276.80" y1="510.85" x2="279.90" y2="510.85" stroke="#222" stroke-width="0.9900000000000001"/>
<text transform="translate(275.80 514.29) scale(0.63 1)" font-size="9.6" text-anchor="end" font-weight="normal" font-style="normal" fill="#222" >85</text>
<line x1="276.80" y1="479.10" x2="279.90" y2="479.10" stroke="#222" stroke-width="0.9900000000000001"/>
<text transform="translate(275.80 482.54) scale(0.63 1)" font-size="9.6" text-anchor="end" font-weight="normal" font-style="normal" fill="#222" >90</text>
<line x1="276.80" y1="447.35" x2="279.90" y2="447.35" stroke="#222" stroke-width="0.9900000000000001"/>
<text transform="translate(275.80 450.79) scale(0.63 1)" font-size="9.6" text-anchor="end" font-weight="normal" font-style="normal" fill="#222" >95</text>
<line x1="276.80" y1="415.60" x2="279.90" y2="415.60" stroke="#222" stroke-width="0.9900000000000001"/>
<text transform="translate(275.80 419.04) scale(0.63 1)" font-size="9.6" text-anchor="end" font-weight="normal" font-style="normal" fill="#222" >100</text>
<line x1="279.40" y1="542.60" x2="337.30" y2="542.60" stroke="#222" stroke-width="1.1"/>
<line x1="296.50" y1="439.30" x2="296.50" y2="451.00" stroke="#333" stroke-width="0.9"/>
<line x1="296.50" y1="483.50" x2="296.50" y2="513.00" stroke="#333" stroke-width="0.9"/>
<line x1="292.55" y1="439.30" x2="300.45" y2="439.30" stroke="#333" stroke-width="0.9"/>
<line x1="292.55" y1="513.00" x2="300.45" y2="513.00" stroke="#333" stroke-width="0.9"/>
<rect x="288.60" y="451.00" width="15.80" height="32.50" fill="#FF0000" stroke="#1a1a1a" stroke-width="0.9" />
<line x1="288.60" y1="464.70" x2="304.40" y2="464.70" stroke="#000" stroke-width="1.3"/>
<line x1="321.15" y1="458.40" x2="321.15" y2="479.30" stroke="#333" stroke-width="0.9"/>
<line x1="321.15" y1="503.30" x2="321.15" y2="517.20" stroke="#333" stroke-width="0.9"/>
<line x1="317.27" y1="458.40" x2="325.02" y2="458.40" stroke="#333" stroke-width="0.9"/>
<line x1="317.27" y1="517.20" x2="325.02" y2="517.20" stroke="#333" stroke-width="0.9"/>
<rect x="313.40" y="479.30" width="15.50" height="24.00" fill="#00B6D6" stroke="#1a1a1a" stroke-width="0.9" />
<line x1="313.40" y1="491.00" x2="328.90" y2="491.00" stroke="#000" stroke-width="1.3"/>
<line x1="296.50" y1="542.60" x2="296.50" y2="547.40" stroke="#333" stroke-width="1"/>
<line x1="321.00" y1="542.60" x2="321.00" y2="547.40" stroke="#333" stroke-width="1"/>
<text transform="translate(262.70 480.90) rotate(-90)" font-size="7.3" text-anchor="middle" font-weight="bold" font-style="normal" fill="#000" textLength="104.90" lengthAdjust="spacingAndGlyphs" >Relative abundance (%)</text>
<line x1="364.40" y1="410.50" x2="364.40" y2="543.50" stroke="#333" stroke-width="1.1"/>
<line x1="361.30" y1="543.50" x2="364.40" y2="543.50" stroke="#222" stroke-width="0.9900000000000001"/>
<text transform="translate(360.30 546.94) scale(0.63 1)" font-size="9.6" text-anchor="end" font-weight="normal" font-style="normal" fill="#222" >0</text>
<line x1="361.30" y1="499.33" x2="364.40" y2="499.33" stroke="#222" stroke-width="0.9900000000000001"/>
<text transform="translate(360.30 502.77) scale(0.63 1)" font-size="9.6" text-anchor="end" font-weight="normal" font-style="normal" fill="#222" >5</text>
<line x1="361.30" y1="455.17" x2="364.40" y2="455.17" stroke="#222" stroke-width="0.9900000000000001"/>
<text transform="translate(360.30 458.60) scale(0.63 1)" font-size="9.6" text-anchor="end" font-weight="normal" font-style="normal" fill="#222" >10</text>
<line x1="361.30" y1="411.00" x2="364.40" y2="411.00" stroke="#222" stroke-width="0.9900000000000001"/>
<text transform="translate(360.30 414.44) scale(0.63 1)" font-size="9.6" text-anchor="end" font-weight="normal" font-style="normal" fill="#222" >15</text>
<line x1="363.90" y1="543.50" x2="424.20" y2="543.50" stroke="#222" stroke-width="1.1"/>
<line x1="381.50" y1="487.00" x2="381.50" y2="504.00" stroke="#333" stroke-width="0.9"/>
<line x1="381.50" y1="527.50" x2="381.50" y2="529.00" stroke="#333" stroke-width="0.9"/>
<line x1="377.55" y1="487.00" x2="385.45" y2="487.00" stroke="#333" stroke-width="0.9"/>
<line x1="377.55" y1="529.00" x2="385.45" y2="529.00" stroke="#333" stroke-width="0.9"/>
<rect x="373.60" y="504.00" width="15.80" height="23.50" fill="#FF0000" stroke="#1a1a1a" stroke-width="0.9" />
<line x1="373.60" y1="514.40" x2="389.40" y2="514.40" stroke="#000" stroke-width="1.3"/>
<line x1="407.30" y1="424.20" x2="407.30" y2="467.50" stroke="#333" stroke-width="0.9"/>
<line x1="407.30" y1="522.10" x2="407.30" y2="529.00" stroke="#333" stroke-width="0.9"/>
<line x1="403.30" y1="424.20" x2="411.30" y2="424.20" stroke="#333" stroke-width="0.9"/>
<line x1="403.30" y1="529.00" x2="411.30" y2="529.00" stroke="#333" stroke-width="0.9"/>
<rect x="399.30" y="467.50" width="16.00" height="54.60" fill="#00B6D6" stroke="#1a1a1a" stroke-width="0.9" />
<line x1="399.30" y1="506.10" x2="415.30" y2="506.10" stroke="#000" stroke-width="1.3"/>
<line x1="381.50" y1="543.50" x2="381.50" y2="548.30" stroke="#333" stroke-width="1"/>
<line x1="407.30" y1="543.50" x2="407.30" y2="548.30" stroke="#333" stroke-width="1"/>
<text transform="translate(348.30 475.40) rotate(-90)" font-size="7.3" text-anchor="middle" font-weight="bold" font-style="normal" fill="#000" textLength="103.60" lengthAdjust="spacingAndGlyphs" >Relative abundance (%)</text>
<line x1="444.40" y1="410.90" x2="444.40" y2="542.60" stroke="#333" stroke-width="1.1"/>
<line x1="441.30" y1="542.60" x2="444.40" y2="542.60" stroke="#222" stroke-width="0.9900000000000001"/>
<text transform="translate(440.30 546.18) scale(0.7 1)" font-size="10" text-anchor="end" font-weight="normal" font-style="normal" fill="#222" >0</text>
<line x1="441.30" y1="516.36" x2="444.40" y2="516.36" stroke="#222" stroke-width="0.9900000000000001"/>
<text transform="translate(440.30 519.94) scale(0.7 1)" font-size="10" text-anchor="end" font-weight="normal" font-style="normal" fill="#222" >1</text>
<line x1="441.30" y1="490.12" x2="444.40" y2="490.12" stroke="#222" stroke-width="0.9900000000000001"/>
<text transform="translate(440.30 493.70) scale(0.7 1)" font-size="10" text-anchor="end" font-weight="normal" font-style="normal" fill="#222" >2</text>
<line x1="441.30" y1="463.88" x2="444.40" y2="463.88" stroke="#222" stroke-width="0.9900000000000001"/>
<text transform="translate(440.30 467.46) scale(0.7 1)" font-size="10" text-anchor="end" font-weight="normal" font-style="normal" fill="#222" >3</text>
<line x1="441.30" y1="437.64" x2="444.40" y2="437.64" stroke="#222" stroke-width="0.9900000000000001"/>
<text transform="translate(440.30 441.22) scale(0.7 1)" font-size="10" text-anchor="end" font-weight="normal" font-style="normal" fill="#222" >4</text>
<line x1="441.30" y1="411.40" x2="444.40" y2="411.40" stroke="#222" stroke-width="0.9900000000000001"/>
<text transform="translate(440.30 414.98) scale(0.7 1)" font-size="10" text-anchor="end" font-weight="normal" font-style="normal" fill="#222" >5</text>
<line x1="443.90" y1="542.60" x2="541.70" y2="542.60" stroke="#222" stroke-width="1.1"/>
<line x1="457.55" y1="484.00" x2="457.55" y2="491.10" stroke="#333" stroke-width="0.9"/>
<line x1="457.55" y1="509.30" x2="457.55" y2="511.70" stroke="#333" stroke-width="0.9"/>
<line x1="454.47" y1="484.00" x2="460.62" y2="484.00" stroke="#333" stroke-width="0.9"/>
<line x1="454.47" y1="511.70" x2="460.62" y2="511.70" stroke="#333" stroke-width="0.9"/>
<rect x="451.40" y="491.10" width="12.30" height="18.20" fill="#FF0000" stroke="#1a1a1a" stroke-width="0.9" />
<line x1="451.40" y1="500.30" x2="463.70" y2="500.30" stroke="#000" stroke-width="1.3"/>
<line x1="476.50" y1="425.60" x2="476.50" y2="428.90" stroke="#333" stroke-width="0.9"/>
<line x1="476.50" y1="487.60" x2="476.50" y2="519.00" stroke="#333" stroke-width="0.9"/>
<line x1="473.45" y1="425.60" x2="479.55" y2="425.60" stroke="#333" stroke-width="0.9"/>
<line x1="473.45" y1="519.00" x2="479.55" y2="519.00" stroke="#333" stroke-width="0.9"/>
<rect x="470.40" y="428.90" width="12.20" height="58.70" fill="#00B6D6" stroke="#1a1a1a" stroke-width="0.9" />
<line x1="470.40" y1="459.20" x2="482.60" y2="459.20" stroke="#000" stroke-width="1.3"/>
<line x1="508.65" y1="440.80" x2="508.65" y2="453.30" stroke="#333" stroke-width="0.9"/>
<line x1="508.65" y1="536.70" x2="508.65" y2="539.10" stroke="#333" stroke-width="0.9"/>
<line x1="505.67" y1="440.80" x2="511.62" y2="440.80" stroke="#333" stroke-width="0.9"/>
<line x1="505.67" y1="539.10" x2="511.62" y2="539.10" stroke="#333" stroke-width="0.9"/>
<rect x="502.70" y="453.30" width="11.90" height="83.40" fill="#FF0000" stroke="#1a1a1a" stroke-width="0.9" />
<line x1="502.70" y1="531.30" x2="514.60" y2="531.30" stroke="#000" stroke-width="1.3"/>
<line x1="527.60" y1="517.60" x2="527.60" y2="521.80" stroke="#333" stroke-width="0.9"/>
<line x1="527.60" y1="535.30" x2="527.60" y2="539.10" stroke="#333" stroke-width="0.9"/>
<line x1="524.65" y1="517.60" x2="530.55" y2="517.60" stroke="#333" stroke-width="0.9"/>
<line x1="524.65" y1="539.10" x2="530.55" y2="539.10" stroke="#333" stroke-width="0.9"/>
<rect x="521.70" y="521.80" width="11.80" height="13.50" fill="#00B6D6" stroke="#1a1a1a" stroke-width="0.9" />
<line x1="521.70" y1="531.30" x2="533.50" y2="531.30" stroke="#000" stroke-width="1.3"/>
<line x1="466.60" y1="542.60" x2="466.60" y2="547.40" stroke="#333" stroke-width="1"/>
<line x1="518.00" y1="542.60" x2="518.00" y2="547.40" stroke="#333" stroke-width="1"/>
<text transform="translate(431.60 479.30) rotate(-90)" font-size="7.3" text-anchor="middle" font-weight="bold" font-style="normal" fill="#000" textLength="99.50" lengthAdjust="spacingAndGlyphs" >Relative abundance (%)</text>
<line x1="298.00" y1="421.90" x2="319.20" y2="421.90" stroke="#222" stroke-width="0.9"/>
<text transform="translate(308.60 420.40)" font-size="10" text-anchor="middle" font-weight="bold" font-style="normal" fill="#000" >*</text>
<line x1="455.50" y1="420.90" x2="477.90" y2="420.90" stroke="#222" stroke-width="0.9"/>
<text transform="translate(466.60 419.40)" font-size="10" text-anchor="middle" font-weight="bold" font-style="normal" fill="#000" >*</text>
<text transform="translate(311.40 558.00)" font-size="7.6" text-anchor="middle" font-weight="bold" font-style="italic" fill="#000" textLength="39.20" lengthAdjust="spacingAndGlyphs" >Firmicutes</text>
<text transform="translate(392.30 558.00)" font-size="7.6" text-anchor="middle" font-weight="bold" font-style="italic" fill="#000" textLength="46.50" lengthAdjust="spacingAndGlyphs" >Bacteroidota</text>
<text transform="translate(466.90 558.00)" font-size="7.6" text-anchor="middle" font-weight="bold" font-style="italic" fill="#000" textLength="53.40" lengthAdjust="spacingAndGlyphs" >Actinobacteriota</text>
<text transform="translate(524.80 558.00)" font-size="7.6" text-anchor="middle" font-weight="bold" font-style="italic" fill="#000" textLength="49.70" lengthAdjust="spacingAndGlyphs" >Proteobacteria</text>
<rect x="526.80" y="411.30" width="5.50" height="6.20" fill="#FF0000" stroke="#111" stroke-width="0.6" />
<text transform="translate(535.50 415.90)" font-size="5.05" text-anchor="start" font-weight="normal" font-style="normal" fill="#333" >CON</text>
<rect x="526.80" y="420.30" width="5.50" height="6.20" fill="#00B6D6" stroke="#111" stroke-width="0.6" />
<text transform="translate(535.50 424.90)" font-size="5.05" text-anchor="start" font-weight="normal" font-style="normal" fill="#333" >FMT</text>
<line x1="33.60" y1="602.70" x2="33.60" y2="747.90" stroke="#333" stroke-width="1"/>
<line x1="31.30" y1="747.90" x2="33.60" y2="747.90" stroke="#222" stroke-width="0.9"/>
<text transform="translate(29.30 751.16) scale(0.84 1)" font-size="9.1" text-anchor="end" font-weight="normal" font-style="normal" fill="#222" >0</text>
<line x1="31.30" y1="718.96" x2="33.60" y2="718.96" stroke="#222" stroke-width="0.9"/>
<text transform="translate(29.30 722.22) scale(0.84 1)" font-size="9.1" text-anchor="end" font-weight="normal" font-style="normal" fill="#222" >0.5</text>
<line x1="31.30" y1="690.02" x2="33.60" y2="690.02" stroke="#222" stroke-width="0.9"/>
<text transform="translate(29.30 693.28) scale(0.84 1)" font-size="9.1" text-anchor="end" font-weight="normal" font-style="normal" fill="#222" >1</text>
<line x1="31.30" y1="661.08" x2="33.60" y2="661.08" stroke="#222" stroke-width="0.9"/>
<text transform="translate(29.30 664.34) scale(0.84 1)" font-size="9.1" text-anchor="end" font-weight="normal" font-style="normal" fill="#222" >1.5</text>
<line x1="31.30" y1="632.14" x2="33.60" y2="632.14" stroke="#222" stroke-width="0.9"/>
<text transform="translate(29.30 635.40) scale(0.84 1)" font-size="9.1" text-anchor="end" font-weight="normal" font-style="normal" fill="#222" >2</text>
<line x1="31.30" y1="603.20" x2="33.60" y2="603.20" stroke="#222" stroke-width="0.9"/>
<text transform="translate(29.30 606.46) scale(0.84 1)" font-size="9.1" text-anchor="end" font-weight="normal" font-style="normal" fill="#222" >2.5</text>
<line x1="33.10" y1="747.90" x2="330.60" y2="747.90" stroke="#222" stroke-width="1"/>
<line x1="53.10" y1="715.70" x2="53.10" y2="721.80" stroke="#333" stroke-width="0.9"/>
<line x1="48.60" y1="715.70" x2="57.60" y2="715.70" stroke="#333" stroke-width="0.9"/>
<rect x="43.80" y="721.80" width="18.60" height="26.10" fill="#FF0000" stroke="#1a1a1a" stroke-width="0.9" />
<line x1="81.75" y1="632.10" x2="81.75" y2="652.30" stroke="#333" stroke-width="0.9"/>
<line x1="77.25" y1="632.10" x2="86.25" y2="632.10" stroke="#333" stroke-width="0.9"/>
<rect x="72.60" y="652.30" width="18.30" height="95.60" fill="#00B6D6" stroke="#1a1a1a" stroke-width="0.9" />
<line x1="158.20" y1="698.20" x2="158.20" y2="722.50" stroke="#333" stroke-width="0.9"/>
<line x1="153.70" y1="698.20" x2="162.70" y2="698.20" stroke="#333" stroke-width="0.9"/>
<rect x="149.10" y="722.50" width="18.20" height="25.40" fill="#00B6D6" stroke="#1a1a1a" stroke-width="0.9" />
<line x1="206.00" y1="738.50" x2="206.00" y2="740.00" stroke="#333" stroke-width="0.9"/>
<line x1="201.50" y1="738.50" x2="210.50" y2="738.50" stroke="#333" stroke-width="0.9"/>
<rect x="196.40" y="740.00" width="19.20" height="7.90" fill="#FF0000" stroke="#1a1a1a" stroke-width="0.9" />
<line x1="234.75" y1="713.50" x2="234.75" y2="721.10" stroke="#333" stroke-width="0.9"/>
<line x1="230.25" y1="713.50" x2="239.25" y2="713.50" stroke="#333" stroke-width="0.9"/>
<rect x="225.50" y="721.10" width="18.50" height="26.80" fill="#00B6D6" stroke="#1a1a1a" stroke-width="0.9" />
<line x1="282.60" y1="740.10" x2="282.60" y2="741.10" stroke="#333" stroke-width="0.9"/>
<line x1="278.10" y1="740.10" x2="287.10" y2="740.10" stroke="#333" stroke-width="0.9"/>
<rect x="273.30" y="741.10" width="18.60" height="6.80" fill="#FF0000" stroke="#1a1a1a" stroke-width="0.9" />
<line x1="311.35" y1="723.70" x2="311.35" y2="727.30" stroke="#333" stroke-width="0.9"/>
<line x1="306.85" y1="723.70" x2="315.85" y2="723.70" stroke="#333" stroke-width="0.9"/>
<rect x="302.30" y="727.30" width="18.10" height="20.60" fill="#00B6D6" stroke="#1a1a1a" stroke-width="0.9" />
<line x1="67.50" y1="747.90" x2="67.50" y2="750.40" stroke="#222" stroke-width="0.9"/>
<line x1="143.60" y1="747.90" x2="143.60" y2="750.40" stroke="#222" stroke-width="0.9"/>
<line x1="220.00" y1="747.90" x2="220.00" y2="750.40" stroke="#222" stroke-width="0.9"/>
<line x1="296.80" y1="747.90" x2="296.80" y2="750.40" stroke="#222" stroke-width="0.9"/>
<line x1="54.10" y1="621.30" x2="75.90" y2="621.30" stroke="#222" stroke-width="0.9"/>
<text transform="translate(65.00 618.36)" font-size="10.5" text-anchor="middle" font-weight="bold" font-style="normal" fill="#000" >**</text>
<line x1="128.40" y1="621.30" x2="149.80" y2="621.30" stroke="#222" stroke-width="0.9"/>
<text transform="translate(139.10 618.86)" font-size="10.5" text-anchor="middle" font-weight="bold" font-style="normal" fill="#000" >*</text>
<line x1="207.60" y1="621.30" x2="229.10" y2="621.30" stroke="#222" stroke-width="0.9"/>
<text transform="translate(218.35 618.86)" font-size="10.5" text-anchor="middle" font-weight="bold" font-style="normal" fill="#000" >*</text>
<line x1="283.00" y1="621.30" x2="304.70" y2="621.30" stroke="#222" stroke-width="0.9"/>
<text transform="translate(293.85 619.15)" font-size="10.5" text-anchor="middle" font-weight="bold" font-style="normal" fill="#000" >***</text>
<text transform="translate(12.60 678.30) rotate(-90)" font-size="8.0" text-anchor="middle" font-weight="bold" font-style="normal" fill="#000" textLength="108.00" lengthAdjust="spacingAndGlyphs" >Relative abundance (%)</text>
<text transform="translate(70.00 758.90)" font-size="7.5" text-anchor="middle" font-weight="bold" font-style="italic" fill="#000" textLength="48.00" lengthAdjust="spacingAndGlyphs" >Corynebacterium</text>
<text transform="translate(139.50 758.90)" font-size="7.5" text-anchor="middle" font-weight="bold" font-style="italic" fill="#000" textLength="27.20" lengthAdjust="spacingAndGlyphs" >Sharpea</text>
<text transform="translate(206.30 758.90)" font-size="7.5" text-anchor="middle" font-weight="bold" font-style="italic" fill="#000" textLength="85.10" lengthAdjust="spacingAndGlyphs" >Rikenellaceae_RC9_gut_group</text>
<text transform="translate(299.00 758.90)" font-size="7.5" text-anchor="middle" font-weight="bold" font-style="italic" fill="#000" textLength="92.00" lengthAdjust="spacingAndGlyphs" >Lachnospiraceae_NK4A136_group</text>
<line x1="359.40" y1="604.00" x2="359.40" y2="747.20" stroke="#333" stroke-width="1"/>
<line x1="357.00" y1="747.20" x2="359.40" y2="747.20" stroke="#222" stroke-width="0.9"/>
<text transform="translate(356.00 750.24) scale(0.87 1)" font-size="8.5" text-anchor="end" font-weight="normal" font-style="normal" fill="#222" >0</text>
<line x1="357.00" y1="711.53" x2="359.40" y2="711.53" stroke="#222" stroke-width="0.9"/>
<text transform="translate(356.00 714.57) scale(0.87 1)" font-size="8.5" text-anchor="end" font-weight="normal" font-style="normal" fill="#222" >1</text>
<line x1="357.00" y1="675.85" x2="359.40" y2="675.85" stroke="#222" stroke-width="0.9"/>
<text transform="translate(356.00 678.89) scale(0.87 1)" font-size="8.5" text-anchor="end" font-weight="normal" font-style="normal" fill="#222" >2</text>
<line x1="357.00" y1="640.17" x2="359.40" y2="640.17" stroke="#222" stroke-width="0.9"/>
<text transform="translate(356.00 643.22) scale(0.87 1)" font-size="8.5" text-anchor="end" font-weight="normal" font-style="normal" fill="#222" >3</text>
<line x1="357.00" y1="604.50" x2="359.40" y2="604.50" stroke="#222" stroke-width="0.9"/>
<text transform="translate(356.00 607.54) scale(0.87 1)" font-size="8.5" text-anchor="end" font-weight="normal" font-style="normal" fill="#222" >4</text>
<line x1="358.90" y1="747.20" x2="537.60" y2="747.20" stroke="#222" stroke-width="1"/>
<line x1="382.95" y1="709.90" x2="382.95" y2="717.10" stroke="#333" stroke-width="0.9"/>
<line x1="382.95" y1="732.00" x2="382.95" y2="744.70" stroke="#333" stroke-width="0.9"/>
<line x1="377.17" y1="709.90" x2="388.73" y2="709.90" stroke="#333" stroke-width="0.9"/>
<line x1="377.17" y1="744.70" x2="388.73" y2="744.70" stroke="#333" stroke-width="0.9"/>
<rect x="371.40" y="717.10" width="23.10" height="14.90" fill="#FF0000" stroke="#1a1a1a" stroke-width="0.9" />
<line x1="371.40" y1="722.30" x2="394.50" y2="722.30" stroke="#000" stroke-width="1.3"/>
<line x1="418.80" y1="640.80" x2="418.80" y2="663.20" stroke="#333" stroke-width="0.9"/>
<line x1="418.80" y1="737.70" x2="418.80" y2="739.70" stroke="#333" stroke-width="0.9"/>
<line x1="412.90" y1="640.80" x2="424.70" y2="640.80" stroke="#333" stroke-width="0.9"/>
<line x1="412.90" y1="739.70" x2="424.70" y2="739.70" stroke="#333" stroke-width="0.9"/>
<rect x="407.00" y="663.20" width="23.60" height="74.50" fill="#00B6D6" stroke="#1a1a1a" stroke-width="0.9" />
<line x1="407.00" y1="705.40" x2="430.60" y2="705.40" stroke="#000" stroke-width="1.3"/>
<line x1="478.20" y1="691.30" x2="478.20" y2="706.20" stroke="#333" stroke-width="0.9"/>
<line x1="478.20" y1="734.80" x2="478.20" y2="738.50" stroke="#333" stroke-width="0.9"/>
<line x1="472.50" y1="691.30" x2="483.90" y2="691.30" stroke="#333" stroke-width="0.9"/>
<line x1="472.50" y1="738.50" x2="483.90" y2="738.50" stroke="#333" stroke-width="0.9"/>
<rect x="466.80" y="706.20" width="22.80" height="28.60" fill="#FF0000" stroke="#1a1a1a" stroke-width="0.9" />
<line x1="466.80" y1="729.80" x2="489.60" y2="729.80" stroke="#000" stroke-width="1.3"/>
<line x1="514.10" y1="674.40" x2="514.10" y2="689.30" stroke="#333" stroke-width="0.9"/>
<line x1="514.10" y1="721.10" x2="514.10" y2="729.00" stroke="#333" stroke-width="0.9"/>
<line x1="508.30" y1="674.40" x2="519.90" y2="674.40" stroke="#333" stroke-width="0.9"/>
<line x1="508.30" y1="729.00" x2="519.90" y2="729.00" stroke="#333" stroke-width="0.9"/>
<rect x="502.50" y="689.30" width="23.20" height="31.80" fill="#00B6D6" stroke="#1a1a1a" stroke-width="0.9" />
<line x1="502.50" y1="704.20" x2="525.70" y2="704.20" stroke="#000" stroke-width="1.3"/>
<line x1="401.00" y1="747.20" x2="401.00" y2="749.70" stroke="#222" stroke-width="0.9"/>
<line x1="495.80" y1="747.20" x2="495.80" y2="749.70" stroke="#222" stroke-width="0.9"/>
<line x1="391.40" y1="621.40" x2="411.70" y2="621.40" stroke="#222" stroke-width="0.9"/>
<text transform="translate(401.90 616.80)" font-size="7.5" text-anchor="middle" font-weight="bold" font-style="normal" fill="#000" textLength="22.90" lengthAdjust="spacingAndGlyphs" ><tspan font-style="italic">P</tspan>=0.066</text>
<line x1="482.20" y1="621.20" x2="502.50" y2="621.20" stroke="#222" stroke-width="0.9"/>
<text transform="translate(492.40 619.90)" font-size="10" text-anchor="middle" font-weight="bold" font-style="normal" fill="#000" >*</text>
<text transform="translate(349.00 678.60) rotate(-90)" font-size="7.4" text-anchor="middle" font-weight="bold" font-style="normal" fill="#000" textLength="108.70" lengthAdjust="spacingAndGlyphs" >Relative abundance (%)</text>
<text transform="translate(412.60 759.00)" font-size="7.5" text-anchor="middle" font-weight="bold" font-style="italic" fill="#000" textLength="103.30" lengthAdjust="spacingAndGlyphs" >Christensenellaceae_R-7_group</text>
<text transform="translate(496.60 759.00)" font-size="7.5" text-anchor="middle" font-weight="bold" font-style="italic" fill="#000" textLength="33.20" lengthAdjust="spacingAndGlyphs" >Prevotella</text>
<rect x="526.10" y="593.20" width="5.60" height="5.70" fill="#FF0000" stroke="#111" stroke-width="0.6" />
<text transform="translate(534.70 597.80)" font-size="5.05" text-anchor="start" font-weight="normal" font-style="normal" fill="#333" >CON</text>
<rect x="526.10" y="602.10" width="5.60" height="5.70" fill="#00B6D6" stroke="#111" stroke-width="0.6" />
<text transform="translate(534.70 606.50)" font-size="5.05" text-anchor="start" font-weight="normal" font-style="normal" fill="#333" >FMT</text>
</svg>
</body></html>
